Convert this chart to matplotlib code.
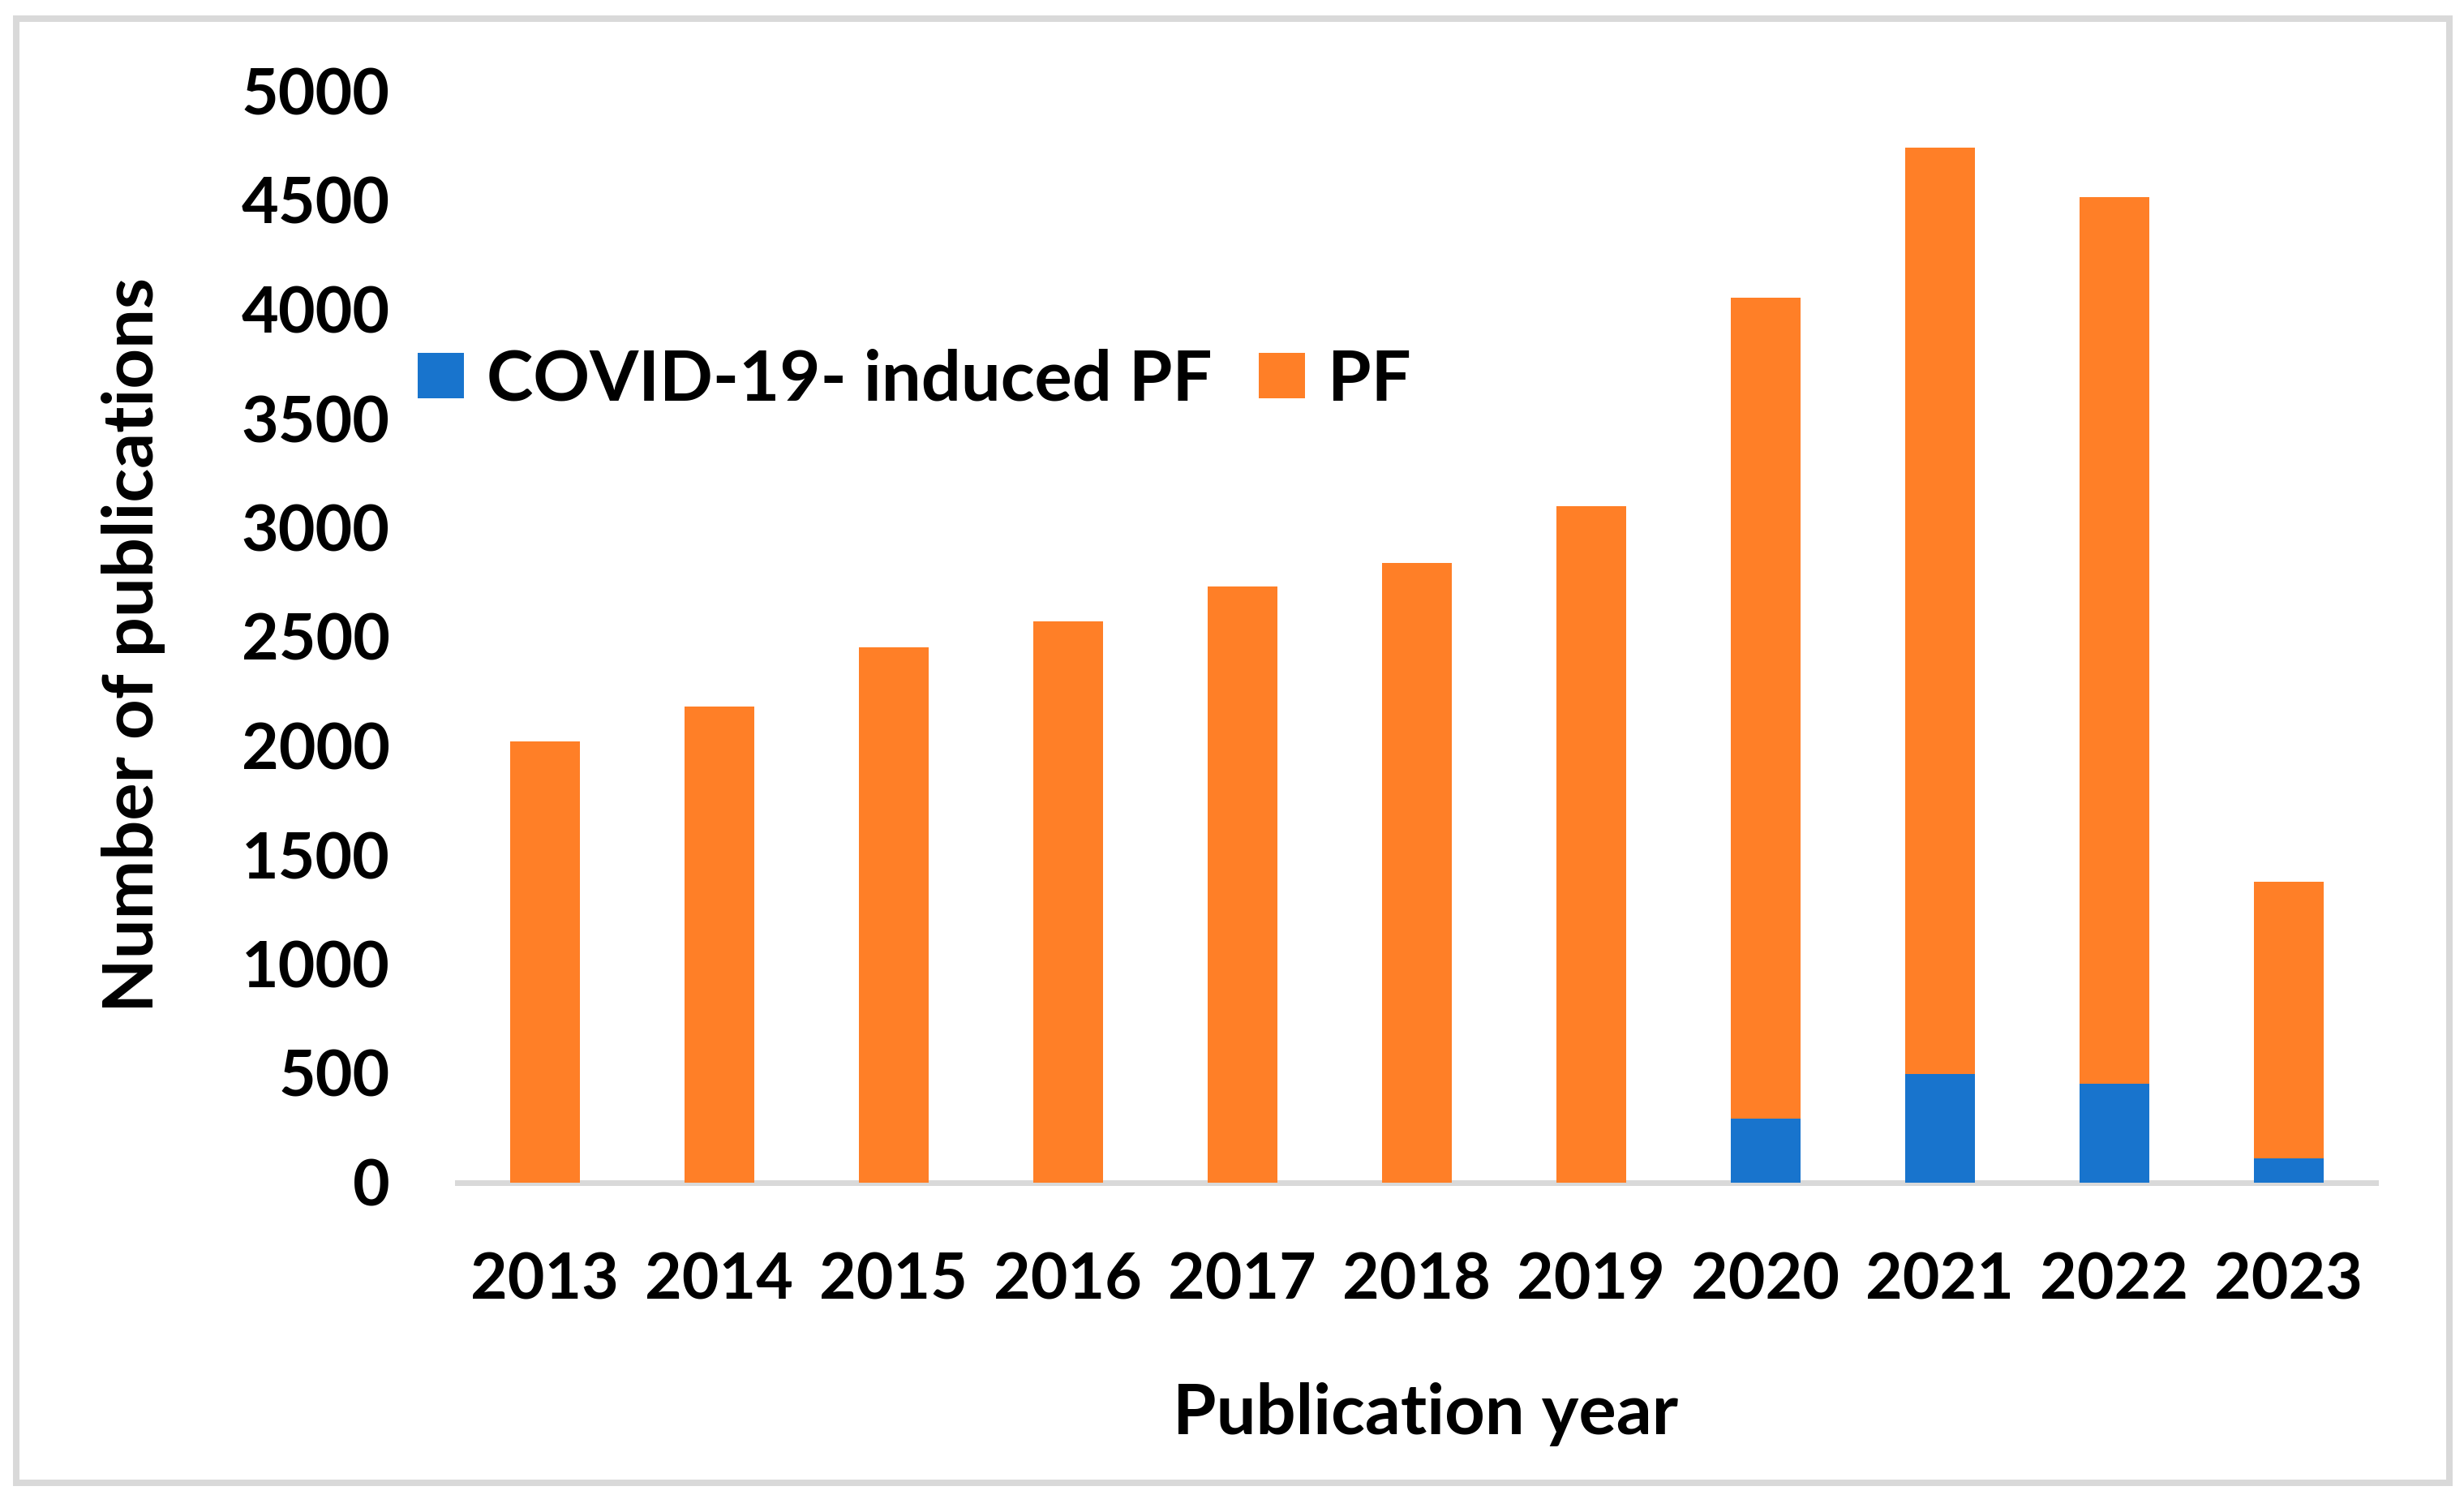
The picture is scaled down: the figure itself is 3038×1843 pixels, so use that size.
import matplotlib
matplotlib.use('Agg')
import matplotlib.pyplot as plt
from matplotlib.patches import Rectangle

W, H = 3038, 1843
DPI = 200

years = ['2013', '2014', '2015', '2016', '2017', '2018', '2019', '2020', '2021', '2022', '2023']
covid_pf = [0, 0, 0, 0, 0, 0, 0, 290, 497, 453, 111]
pf = [2020, 2180, 2450, 2570, 2730, 2840, 3100, 3765, 4243, 4062, 1267]
y_ticks = [0, 500, 1000, 1500, 2000, 2500, 3000, 3500, 4000, 4500, 5000]

BLUE = '#1874CD'
ORANGE = '#FF7F27'
GRID_GREY = '#D9D9D9'

plt.rcParams['font.family'] = ['Lato', 'DejaVu Sans']
plt.rcParams['font.weight'] = 'bold'
FS = 28.4      # tick labels
FS_LAB = 31.2  # axis titles and legend

def px_x(x):
    return x / W

def px_y(y):
    # pixel from top -> figure fraction
    return 1 - y / H

def main():
    fig = plt.figure(figsize=(W / DPI, H / DPI), dpi=DPI)
    ax = fig.add_axes([px_x(564), px_y(1457.5), px_x(2929 - 564), (1457.5 - 112.5) / H])

    x = range(len(years))
    ax.bar(x, covid_pf, width=0.40, color=BLUE, label='COVID-19- induced PF', zorder=3)
    ax.bar(x, pf, width=0.40, bottom=covid_pf, color=ORANGE, label='PF', zorder=3)

    ax.set_xlim(-0.5, len(years) - 0.5)
    ax.set_ylim(0, 5000)
    ax.set_yticks(y_ticks)
    ax.set_xticks(list(x))
    ax.set_xticklabels(years)

    for s in ['top', 'right', 'left']:
        ax.spines[s].set_visible(False)
    ax.spines['bottom'].set_color(GRID_GREY)
    ax.spines['bottom'].set_linewidth(7 / DPI * 72)
    ax.spines['bottom'].set_zorder(2)

    ax.tick_params(axis='both', length=0, labelsize=FS)
    ax.tick_params(axis='y', pad=30)
    ax.tick_params(axis='x', pad=31)

    fig.text(px_x(165), px_y(795), 'Number of publications', rotation=90,
             ha='center', va='center', fontsize=FS_LAB, fontweight='bold')
    fig.text(px_x(1758), px_y(1768), 'Publication year',
             ha='center', va='baseline', fontsize=FS_LAB, fontweight='bold')

    leg = fig.legend(loc='center left', bbox_to_anchor=(px_x(515), px_y(469)),
                     bbox_transform=fig.transFigure, ncol=2, frameon=False,
                     borderpad=0, borderaxespad=0, fontsize=FS_LAB,
                     handlelength=0.66, handleheight=0.61, handletextpad=0.32,
                     columnspacing=0.66)
    for t in leg.get_texts():
        t.set_fontweight('bold')

    lw = 8 / DPI * 72
    frame = Rectangle((px_x(19.5), px_y(1827.5)), px_x(3020 - 19.5), (1827.5 - 23) / H,
                      transform=fig.transFigure, fill=False, edgecolor=GRID_GREY,
                      linewidth=lw, zorder=0)
    fig.patches.append(frame)

    fig.savefig('out.png', dpi=DPI, facecolor='white')

if __name__ == '__main__':
    main()
